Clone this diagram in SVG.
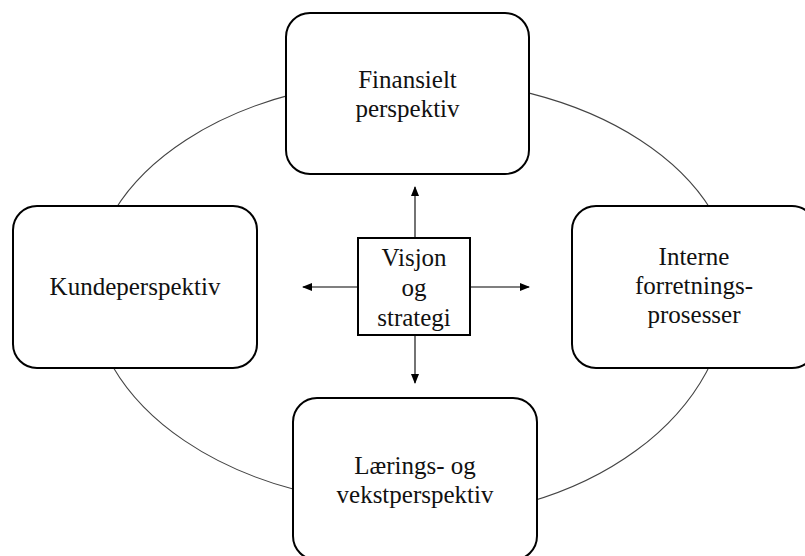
<svg xmlns="http://www.w3.org/2000/svg" width="805" height="556" viewBox="0 0 805 556">
  <style>
    .box { fill: #ffffff; stroke: #000000; stroke-width: 2; }
    .ring { fill: none; stroke: #444444; stroke-width: 1.1; }
    .arrow { fill: none; stroke: #000000; stroke-width: 1.1; marker-end: url(#head); }
    .label { font-family: "Liberation Serif", "Times New Roman", serif; font-size: 25px; fill: #111111; text-anchor: middle; }
  </style>
  <defs>
    <marker id="head" markerUnits="userSpaceOnUse" markerWidth="10" markerHeight="8" refX="9" refY="4" orient="auto">
      <path d="M0,0 L10,4 L0,8 z" fill="#000000"/>
    </marker>
  </defs>
  <rect width="805" height="556" fill="#ffffff"/>

  <!-- ring linking the four perspectives -->
  <g id="connectors">
    <path class="ring" d="M 92 287 A 321 208 0 0 1 734 287"/>
    <path class="ring" d="M 90.5 287 A 320.5 217.3 0 0 0 411 504.3"/>
    <path class="ring" d="M 413 518.3 A 315.5 231.3 0 0 0 728.5 287"/>
    <line class="arrow" x1="415" y1="238" x2="415" y2="187"/>
    <line class="arrow" x1="415" y1="335" x2="415" y2="383"/>
    <line class="arrow" x1="358" y1="287" x2="303" y2="287"/>
    <line class="arrow" x1="470" y1="287" x2="529" y2="287"/>
  </g>

  <g id="finansielt">
    <rect class="box" x="286" y="13" width="243" height="161" rx="24" ry="24"/>
    <text class="label" x="407.5" y="88">Finansielt</text>
    <text class="label" x="407.5" y="117">perspektiv</text>
  </g>

  <g id="kunde">
    <rect class="box" x="13" y="206" width="244" height="162" rx="24" ry="24"/>
    <text class="label" x="135" y="295">Kundeperspektiv</text>
  </g>

  <g id="interne">
    <rect class="box" x="572" y="206" width="244" height="162" rx="24" ry="24"/>
    <text class="label" x="694" y="265">Interne</text>
    <text class="label" x="694" y="294">forretnings-</text>
    <text class="label" x="694" y="323">prosesser</text>
  </g>

  <g id="laerings">
    <rect class="box" x="293" y="398" width="244" height="162" rx="24" ry="24"/>
    <text class="label" x="415" y="474">Lærings- og</text>
    <text class="label" x="415" y="503">vekstperspektiv</text>
  </g>

  <g id="visjon">
    <rect class="box" x="358" y="238" width="112" height="97"/>
    <text class="label" x="414" y="266">Visjon</text>
    <text class="label" x="414" y="296">og</text>
    <text class="label" x="414" y="326">strategi</text>
  </g>
</svg>
